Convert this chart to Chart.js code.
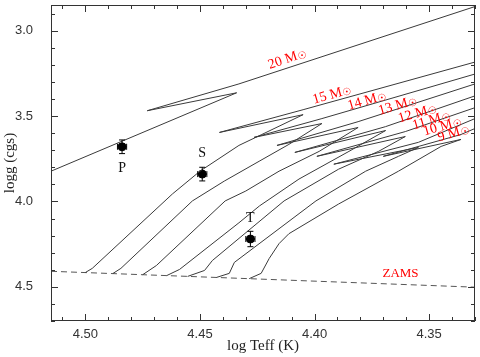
<!DOCTYPE html>
<html>
<head>
<meta charset="utf-8">
<script src="https://cdn.jsdelivr.net/npm/chart.js@4.4.1/dist/chart.umd.min.js"></script>
<style>
  html, body { margin: 0; padding: 0; background: #fff; }
  #wrap { width: 480px; height: 357px; }
</style>
</head>
<body>
<div id="wrap"><canvas id="hr"></canvas></div>
<script>
// evolutionary tracks as [log Teff, log g] pairs
const masses = [20, 15, 14, 13, 12, 11, 10, 9];
const track20 = [[4.515, 3.823], [4.434, 3.364], [4.473, 3.469], [4.433, 3.312], [4.330, 2.859]];
const track15 = [[4.500, 4.416], [4.497, 4.392], [4.462, 3.956], [4.450, 3.823], [4.433, 3.672], [4.423, 3.608],
  [4.405, 3.492], [4.4415, 3.596], [4.405, 3.463], [4.330, 3.184]];
const track14 = [[4.488, 4.422], [4.4845, 4.392], [4.4533, 3.997], [4.4394, 3.881], [4.4242, 3.765], [4.4112, 3.666],
  [4.3968, 3.544], [4.4264, 3.625], [4.3968, 3.515], [4.330, 3.254]];
const track13 = [[4.475, 4.429], [4.469, 4.375], [4.439, 3.997], [4.430, 3.939], [4.4155, 3.823], [4.398, 3.707],
  [4.381, 3.567], [4.4164, 3.672], [4.381, 3.533], [4.330, 3.312]];
const track12 = [[4.4645, 4.434], [4.4589, 4.398], [4.433, 4.125], [4.424, 4.026], [4.4068, 3.869], [4.385, 3.707],
  [4.369, 3.585], [4.4086, 3.713], [4.369, 3.562], [4.330, 3.382]];
const track11 = [[4.4554, 4.439], [4.448, 4.404], [4.4446, 4.346], [4.4133, 3.997], [4.3895, 3.811], [4.3721, 3.707],
  [4.3604, 3.620], [4.399, 3.736], [4.3604, 3.591], [4.330, 3.451]];
const track10 = [[4.4428, 4.445], [4.4372, 4.421], [4.435, 4.357], [4.3994, 3.997], [4.3777, 3.823], [4.3634, 3.736],
  [4.3547, 3.684], [4.3916, 3.782], [4.3547, 3.654], [4.330, 3.515]];
const track9 = [[4.4285, 4.452], [4.4233, 4.421], [4.4198, 4.334], [4.4155, 4.247], [4.4112, 4.189], [4.3895, 4.015],
  [4.3634, 3.823], [4.3448, 3.678], [4.3361, 3.637], [4.370, 3.736], [4.3361, 3.608], [4.330, 3.573]];
const tracks = [track20, track15, track14, track13, track12, track11, track10, track9];

const zams = [[4.515, 4.409], [4.433, 4.450], [4.330, 4.502]];

// the three stars with their error bars
const starNames = ["P", "S", "T"];
const starTeff = [4.484, 4.449, 4.428];
const starLogg = [3.68, 3.84, 4.22];
const errTeff = [0.002, 0.002, 0.002];
const errLogg = [0.04, 0.04, 0.045];
const starLabelLogg = [3.805, 3.718, 4.096];

// mass label anchors
const massLabelTeff = [4.412, 4.3925, 4.3773, 4.3638, 4.3552, 4.3491, 4.3443, 4.3395];
const massLabelLogg = [3.167, 3.376, 3.411, 3.440, 3.486, 3.527, 3.562, 3.602];

const xTicks = [4.50, 4.45, 4.40, 4.35];
const yTicks = [3.0, 3.5, 4.0, 4.5];

const toPts = arr => arr.map(p => ({ x: p[0], y: p[1] }));

const datasets = tracks.map((t, i) => ({
  label: masses[i] + " Msun",
  data: toPts(t),
  showLine: true,
  borderColor: "#3a3a3a",
  borderWidth: 1,
  pointRadius: 0,
  tension: 0
}));
datasets.push({
  label: "ZAMS",
  data: toPts(zams),
  showLine: true,
  borderColor: "#555",
  borderWidth: 1,
  borderDash: [6, 4],
  pointRadius: 0
});
datasets.push({
  label: "stars",
  data: starTeff.map((t, i) => ({ x: t, y: starLogg[i] })),
  showLine: false,
  pointRadius: 4,
  pointBackgroundColor: "#000",
  pointBorderColor: "#000"
});

const extras = {
  id: "extras",
  afterDatasetsDraw(chart) {
    const { ctx, chartArea: a, scales: { x, y } } = chart;
    ctx.save();
    ctx.strokeStyle = "#333";
    ctx.lineWidth = 1;
    ctx.strokeRect(a.left + 0.5, a.top + 0.5, a.right - a.left - 1, a.bottom - a.top - 1);

    // inward ticks, all four sides
    ctx.beginPath();
    for (let v = 4.33; v <= 4.515; v += 0.01) {
      const px = Math.round(x.getPixelForValue(v)) + 0.5;
      const major = Math.abs(v * 20 - Math.round(v * 20)) < 1e-6;
      const len = major ? 7 : 4;
      ctx.moveTo(px, a.bottom); ctx.lineTo(px, a.bottom - len);
      ctx.moveTo(px, a.top); ctx.lineTo(px, a.top + len);
    }
    for (let v = 2.9; v <= 4.7; v += 0.1) {
      const py = Math.round(y.getPixelForValue(v)) + 0.5;
      const major = Math.abs(v * 2 - Math.round(v * 2)) < 1e-6;
      const len = major ? 7 : 4;
      ctx.moveTo(a.left, py); ctx.lineTo(a.left + len, py);
      ctx.moveTo(a.right, py); ctx.lineTo(a.right - len, py);
    }
    ctx.stroke();

    // error bars
    ctx.strokeStyle = "#000";
    ctx.beginPath();
    starTeff.forEach((t, i) => {
      const cx = x.getPixelForValue(t), cy = y.getPixelForValue(starLogg[i]);
      const x0 = x.getPixelForValue(t + errTeff[i]), x1 = x.getPixelForValue(t - errTeff[i]);
      const y0 = y.getPixelForValue(starLogg[i] - errLogg[i]), y1 = y.getPixelForValue(starLogg[i] + errLogg[i]);
      ctx.moveTo(x0, cy); ctx.lineTo(x1, cy);
      ctx.moveTo(x0, cy - 3); ctx.lineTo(x0, cy + 3);
      ctx.moveTo(x1, cy - 3); ctx.lineTo(x1, cy + 3);
      ctx.moveTo(cx, y0); ctx.lineTo(cx, y1);
      ctx.moveTo(cx - 3, y0); ctx.lineTo(cx + 3, y0);
      ctx.moveTo(cx - 3, y1); ctx.lineTo(cx + 3, y1);
    });
    ctx.stroke();

    // star names
    ctx.fillStyle = "#111";
    ctx.font = "14px 'Liberation Serif'";
    ctx.textAlign = "center";
    ctx.textBaseline = "middle";
    starNames.forEach((n, i) => {
      ctx.fillText(n, x.getPixelForValue(starTeff[i]), y.getPixelForValue(starLabelLogg[i]));
    });

    // mass labels
    ctx.fillStyle = "#f00";
    masses.forEach((m, i) => {
      ctx.save();
      ctx.translate(x.getPixelForValue(massLabelTeff[i]), y.getPixelForValue(massLabelLogg[i]));
      ctx.rotate((i === 0 ? -19 : -16) * Math.PI / 180);
      ctx.font = "14px 'Liberation Serif'";
      const main = m + " M";
      const w = ctx.measureText(main).width;
      ctx.font = "10px 'DejaVu Sans'";
      const ws = ctx.measureText("\u2609").width;
      const x0 = -(w + ws) / 2;
      ctx.textAlign = "left";
      ctx.font = "14px 'Liberation Serif'";
      ctx.fillText(main, x0, 0);
      ctx.font = "10px 'DejaVu Sans'";
      ctx.fillText("\u2609", x0 + w + 0.5, 2);
      ctx.restore();
    });

    ctx.font = "13px 'Liberation Serif'";
    ctx.textAlign = "center";
    ctx.fillText("ZAMS", x.getPixelForValue(4.3625), y.getPixelForValue(4.421));
    ctx.restore();
  }
};

new Chart(document.getElementById("hr"), {
  type: "scatter",
  data: { datasets },
  options: {
    responsive: true,
    maintainAspectRatio: false,
    animation: false,
    events: [],
    layout: { padding: { top: 3, right: 3, left: 0, bottom: 0 } },
    plugins: { legend: { display: false }, tooltip: { enabled: false } },
    scales: {
      x: {
        type: "linear",
        reverse: true,
        bounds: "data",
        min: 4.33,
        max: 4.515,
        afterBuildTicks: s => { s.ticks = xTicks.map(v => ({ value: v })); },
        afterFit: s => { s.height = 36; s.paddingLeft = 0; s.paddingRight = 0; },
        grid: { display: false, drawTicks: false },
        border: { display: false },
        ticks: {
          callback: v => v.toFixed(2),
          color: "#333",
          font: { family: "'Liberation Sans'", size: 13 },
          padding: 6,
          maxRotation: 0
        },
        title: {
          display: true,
          text: "log Teff (K)",
          color: "#222",
          font: { family: "'Liberation Serif'", size: 15 },
          padding: { top: 0, bottom: 2 }
        }
      },
      y: {
        type: "linear",
        reverse: true,
        bounds: "data",
        min: 2.85,
        max: 4.70,
        afterBuildTicks: s => { s.ticks = yTicks.map(v => ({ value: v })); },
        // the big label padding would otherwise push the plot top down
        afterFit: s => { s.width = 51; s.paddingTop = 0; s.paddingBottom = 0; },
        grid: { display: false, drawTicks: false },
        border: { display: false },
        ticks: {
          callback: v => v.toFixed(1),
          color: "#333",
          font: { family: "'Liberation Sans'", size: 13 },
          padding: 18
        },
        title: {
          display: true,
          text: "logg (cgs)",
          color: "#222",
          font: { family: "'Liberation Serif'", size: 15 },
          padding: { top: 1, bottom: 0 }
        }
      }
    }
  },
  plugins: [extras]
});
</script>
</body>
</html>
